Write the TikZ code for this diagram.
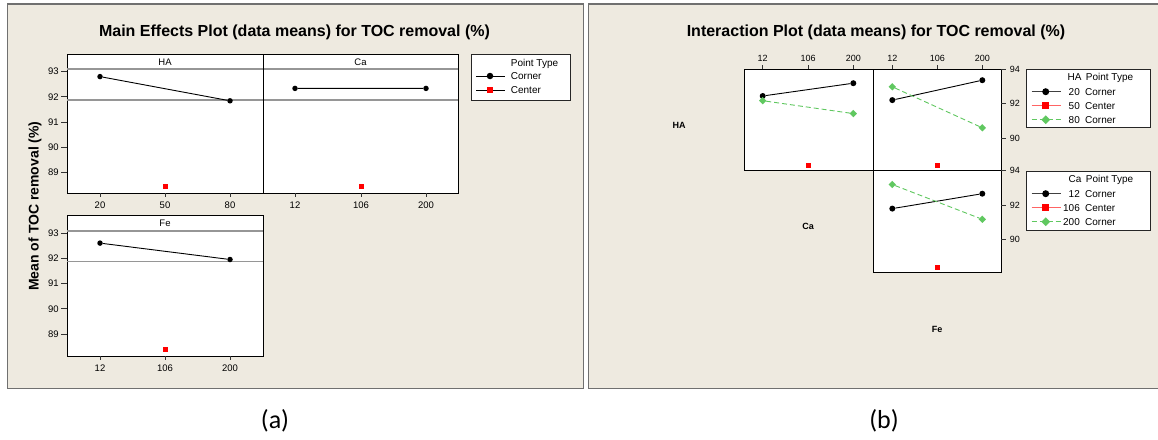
\documentclass[tikz,border=0pt]{standalone}
\usepackage{fontspec}
\setmainfont{Liberation Sans}
\newfontfamily\subfont{Carlito}
\usetikzlibrary{shapes.geometric}
\definecolor{panelbg}{RGB}{238,234,224}
\definecolor{framegray}{RGB}{112,112,112}
\definecolor{refgray}{RGB}{150,150,150}
\definecolor{ptgreen}{RGB}{96,200,96}
\definecolor{ptred}{RGB}{255,0,0}
\definecolor{legred}{RGB}{255,100,100}
\tikzset{x=1pt,y=-1pt,
  panel/.style={fill=panelbg,draw=framegray,line width=1.3},
  plotbox/.style={fill=white,draw=black,line width=0.9},
  legbox/.style={fill=white,draw=black!85,line width=0.9},
  refline/.style={draw=refgray,line width=1.1},
  tickmark/.style={draw=black!80,line width=0.8},
  ticklbl/.style={inner sep=0pt,text height=6.8pt,text depth=0pt,font=\fontsize{9.5}{10}\selectfont},
  smalllbl/.style={inner sep=0pt,text height=6.5pt,text depth=0pt,font=\fontsize{9}{10}\selectfont},
  legtxt/.style={inner sep=0pt,text height=7.2pt,text depth=0pt,font=\fontsize{10}{11}\selectfont},
  titletxt/.style={inner sep=0pt,font=\bfseries\fontsize{16}{18}\selectfont},
  axislbl/.style={inner sep=0pt,font=\bfseries\fontsize{14}{16}\selectfont},
  rowlbl/.style={inner sep=0pt,text height=6.5pt,text depth=0pt,font=\bfseries\fontsize{9}{10}\selectfont},
  cornerpt/.style={circle,fill=black,inner sep=0pt,minimum size=5.5},
  centerpt/.style={rectangle,fill=ptred,inner sep=0pt,minimum size=5},
  farpt/.style={diamond,fill=ptgreen,inner sep=0pt,minimum size=7.5},
  lowline/.style={black,line width=0.9},
  midline/.style={legred,line width=0.9},
  highline/.style={ptgreen,line width=0.9,dash pattern=on 5 off 3}}
\begin{document}
\begin{tikzpicture}
\useasboundingbox (0,0) rectangle (1158,439);

\draw[panel] (7.7,4) rectangle (583.3,388.6);
\node[titletxt] (titleA) at (294.5,32.7) {Main Effects Plot (data means) for TOC removal (\%)};
\node[axislbl,rotate=90] (ylabA) at (35,206) {Mean of TOC removal (\%)};

\draw[plotbox] (67,54.5) rectangle (263,193);
\draw[plotbox] (263,54.5) rectangle (458,193);
\draw[plotbox] (67,215.6) rectangle (263,356);
\draw[refline] (67,69) -- (458,69) (67,100) -- (458,100);
\draw[refline] (67,231) -- (263,231) (67,261.5) -- (263,261.5);
\draw[black,line width=0.9] (263,54.5) -- (263,193);
\node[ticklbl] (hdrHA) at (165,61.8) {HA};
\node[ticklbl] (hdrCa) at (360.5,61.8) {Ca};
\node[ticklbl] (hdrFe) at (165,223.3) {Fe};

\foreach \v in {93,92,91,90,89} {
  \draw[tickmark] (67,{71.5+25.25*(93-\v)}) -- (61,{71.5+25.25*(93-\v)})
    node[ticklbl,anchor=east,xshift=-2] (ytA\v) {\v};
  \draw[tickmark] (67,{233+25.25*(93-\v)}) -- (61,{233+25.25*(93-\v)})
    node[ticklbl,anchor=east,xshift=-2] (ytF\v) {\v};
}
\foreach \x/\t in {100/20,165/50,230/80,295/12,361/106,426/200} {
  \draw[tickmark] (\x,193) -- (\x,197);
  \node[ticklbl] (xtA\t) at (\x,205) {\t};
}
\foreach \x/\t in {100/12,165/106,230/200} {
  \draw[tickmark] (\x,356) -- (\x,360);
  \node[ticklbl] (xtF\t) at (\x,368.5) {\t};
}

\node[cornerpt] (ha20) at (100,76.6) {};
\node[cornerpt] (ha80) at (230,100.8) {};
\node[centerpt] (ha50) at (165,186.4) {};
\node[cornerpt] (ca12) at (295,88.4) {};
\node[cornerpt] (ca200) at (426,88.4) {};
\node[centerpt] (ca106) at (361,186.4) {};
\node[cornerpt] (fe12) at (100,243.1) {};
\node[cornerpt] (fe200) at (230,259.5) {};
\node[centerpt] (fe106) at (165,349.9) {};
\draw[lowline] (ha20) -- (ha80) (ca12) -- (ca200) (fe12) -- (fe200);

\draw[legbox] (471.3,54) rectangle (570.3,100);
\node[legtxt,anchor=west] (legAhead) at (510.7,62.7) {Point Type};
\node[legtxt,anchor=west] (legAcor) at (510.7,76) {Corner};
\node[legtxt,anchor=west] (legActr) at (510.7,90.3) {Center};
\coordinate (legAl1) at (476,76);
\coordinate (legAr1) at (505,76);
\coordinate (legAl2) at (476,90.3);
\coordinate (legAr2) at (505,90.3);
\draw[lowline] (legAl1) -- (legAr1) (legAl2) -- (legAr2);
\node[cornerpt,minimum size=6.5] (legAm1) at (490,76) {};
\node[centerpt,minimum size=6] (legAm2) at (490,90.3) {};

\fill[panelbg] (588.5,4) rectangle (1158,388.6);
\draw[framegray,line width=1.3] (1158,4) -- (588.5,4) -- (588.5,388.6) -- (1158,388.6);
\node[titletxt] (titleB) at (876,32.7) {Interaction Plot (data means) for TOC removal (\%)};

\draw[plotbox] (744.5,69) rectangle (873.5,170.5);
\draw[plotbox] (873.5,69) rectangle (1001,170.5);
\draw[plotbox] (873.5,170.5) rectangle (1001,272.5);
\foreach \x/\t in {762.7/12,808/106,853.3/200} {
  \draw[tickmark] (\x,69) -- (\x,64.5);
  \node[smalllbl] (xtB\t) at (\x,58.2) {\t};
}
\foreach \x/\t in {892.3/12,937.3/106,982.3/200} {
  \draw[tickmark] (\x,69) -- (\x,64.5);
  \node[smalllbl] (xtC\t) at (\x,58.2) {\t};
}
\foreach \v in {94,92,90} {
  \draw[tickmark] (1001,{69+17.3*(94-\v)}) -- (1006,{69+17.3*(94-\v)})
    node[smalllbl,anchor=west,xshift=3.5] (ytB\v) {\v};
  \draw[tickmark] (1001,{170.5+17.3*(94-\v)}) -- (1006,{170.5+17.3*(94-\v)})
    node[smalllbl,anchor=west,xshift=3.5] (ytC\v) {\v};
}
\node[rowlbl] (rowHA) at (679,125.3) {HA};
\node[rowlbl] (rowCa) at (808,226) {Ca};
\node[rowlbl] (rowFe) at (937,329) {Fe};

\node[cornerpt,minimum size=6] (hcA) at (762.7,96) {};
\node[cornerpt,minimum size=6] (hcB) at (853.3,83.2) {};
\node[farpt] (hcC) at (762.7,100.7) {};
\node[farpt] (hcD) at (853.3,113.6) {};
\node[centerpt] (hcE) at (808,165) {};
\draw[lowline] (hcA) -- (hcB);
\draw[highline] (hcC) -- (hcD);

\node[cornerpt,minimum size=6] (hfA) at (892.3,100.1) {};
\node[cornerpt,minimum size=6] (hfB) at (982.3,80.2) {};
\node[farpt] (hfC) at (892.3,86.8) {};
\node[farpt] (hfD) at (982.3,127.8) {};
\node[centerpt] (hfE) at (937.3,165) {};
\draw[lowline] (hfA) -- (hfB);
\draw[highline] (hfC) -- (hfD);

\node[cornerpt,minimum size=6] (cfA) at (892.3,208.6) {};
\node[cornerpt,minimum size=6] (cfB) at (982.3,193.7) {};
\node[farpt] (cfC) at (892.3,184.5) {};
\node[farpt] (cfD) at (982.3,219.3) {};
\node[centerpt] (cfE) at (937.3,267.4) {};
\draw[lowline] (cfA) -- (cfB);
\draw[highline] (cfC) -- (cfD);

\draw[legbox] (1026.7,69) rectangle (1150.7,127.7);
\node[legtxt,anchor=east] (legBvar) at (1081.7,77.3) {HA};
\node[legtxt,anchor=west] (legBhead) at (1085.7,77.3) {Point Type};
\node[legtxt,anchor=east] (legBlv1) at (1080,91.7) {20};
\node[legtxt,anchor=west] (legBtp1) at (1085,91.7) {Corner};
\node[legtxt,anchor=east] (legBlv2) at (1080,105.7) {50};
\node[legtxt,anchor=west] (legBtp2) at (1085,105.7) {Center};
\node[legtxt,anchor=east] (legBlv3) at (1080,119.7) {80};
\node[legtxt,anchor=west] (legBtp3) at (1085,119.7) {Corner};
\coordinate (legBl1) at (1031.7,91.7);
\coordinate (legBr1) at (1060.7,91.7);
\coordinate (legBl2) at (1031.7,105.7);
\coordinate (legBr2) at (1060.7,105.7);
\coordinate (legBl3) at (1031.7,119.7);
\coordinate (legBr3) at (1060.7,119.7);
\draw[lowline,black!75] (legBl1) -- (legBr1);
\draw[midline] (legBl2) -- (legBr2);
\draw[highline] (legBl3) -- (legBr3);
\node[cornerpt,minimum size=7] (legBm1) at (1045.7,91.7) {};
\node[centerpt,minimum size=6.5] (legBm2) at (1045.7,105.7) {};
\node[farpt,minimum size=9] (legBm3) at (1045.7,119.7) {};

\draw[legbox] (1026.7,171) rectangle (1150.7,230);
\node[legtxt,anchor=east] (legCvar) at (1081.7,179.3) {Ca};
\node[legtxt,anchor=west] (legChead) at (1085.7,179.3) {Point Type};
\node[legtxt,anchor=east] (legClv1) at (1080,193.7) {12};
\node[legtxt,anchor=west] (legCtp1) at (1085,193.7) {Corner};
\node[legtxt,anchor=east] (legClv2) at (1080,207.7) {106};
\node[legtxt,anchor=west] (legCtp2) at (1085,207.7) {Center};
\node[legtxt,anchor=east] (legClv3) at (1080,221.7) {200};
\node[legtxt,anchor=west] (legCtp3) at (1085,221.7) {Corner};
\coordinate (legCl1) at (1031.7,193.7);
\coordinate (legCr1) at (1060.7,193.7);
\coordinate (legCl2) at (1031.7,207.7);
\coordinate (legCr2) at (1060.7,207.7);
\coordinate (legCl3) at (1031.7,221.7);
\coordinate (legCr3) at (1060.7,221.7);
\draw[lowline,black!75] (legCl1) -- (legCr1);
\draw[midline] (legCl2) -- (legCr2);
\draw[highline] (legCl3) -- (legCr3);
\node[cornerpt,minimum size=7] (legCm1) at (1045.7,193.7) {};
\node[centerpt,minimum size=6.5] (legCm2) at (1045.7,207.7) {};
\node[farpt,minimum size=9] (legCm3) at (1045.7,221.7) {};

\node[inner sep=0pt,font=\subfont\fontsize{26}{30}\selectfont] (capA) at (275,421) {(a)};
\node[inner sep=0pt,font=\subfont\fontsize{26}{30}\selectfont] (capB) at (884,421) {(b)};
\end{tikzpicture}
\end{document}
